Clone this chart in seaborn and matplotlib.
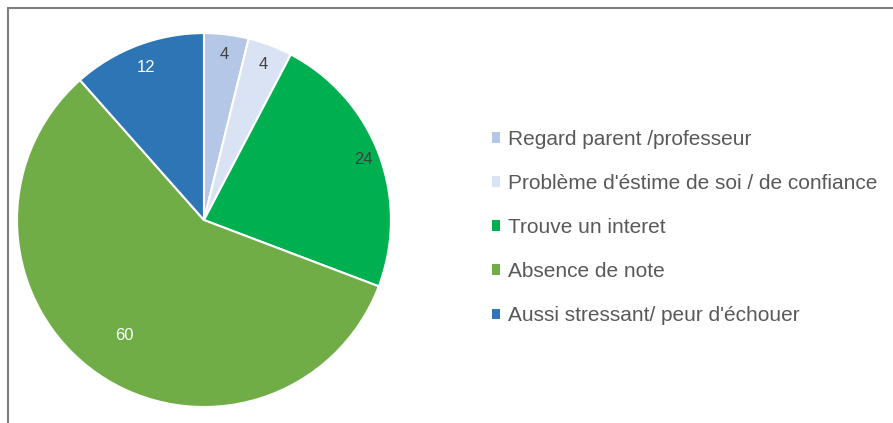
import numpy as np
import matplotlib
matplotlib.use('Agg')
import matplotlib.pyplot as plt
import seaborn as sns
from matplotlib.patches import Patch
from matplotlib.lines import Line2D

# Donnees
categories = ['Regard parent /professeur',
              "Problème d'éstime de soi / de confiance",
              'Trouve un interet',
              'Absence de note',
              "Aussi stressant/ peur d'échouer"]
valeurs = [4, 4, 24, 60, 12]
couleurs = ['#b4c7e7', '#dae3f3', '#00b050', '#70ad47', '#2e75b6']
couleurs_texte = ['#404040', '#404040', '#404040', 'white', 'white']
distances = [0.89, 0.89, 0.91, 0.75, 0.87]

sns.set_theme(style='white')
plt.rcParams['font.family'] = ['Liberation Sans', 'DejaVu Sans']

fig = plt.figure(figsize=(8.93, 4.23), dpi=100)
ax = fig.add_axes([0.019, 0.0378, 0.4188, 0.884])
wedges, _ = ax.pie(valeurs, colors=couleurs, startangle=90, counterclock=False,
                   wedgeprops=dict(edgecolor='white', linewidth=1.5))
ax.set_xlim(-1, 1)
ax.set_ylim(-1, 1)
ax.set_aspect('equal')

# Etiquettes de valeurs
for w, v, c, d in zip(wedges, valeurs, couleurs_texte, distances):
    ang = np.deg2rad((w.theta1 + w.theta2) / 2)
    ax.text(d * np.cos(ang), d * np.sin(ang), str(v), ha='center', va='center',
            fontsize=12, color=c)

# Legende
poignees = [Patch(facecolor=c, edgecolor='none') for c in couleurs]
leg = fig.legend(poignees, categories, loc='upper left', bbox_to_anchor=(0.551, 0.693),
                 frameon=False, fontsize=15, labelcolor='#595959',
                 handlelength=0.4, handleheight=0.4, handletextpad=0.35,
                 labelspacing=1.205, borderaxespad=0, borderpad=0)

# Cadre du graphique
fig.add_artist(Line2D([8 / 893, 8 / 893], [0, 1 - 8 / 423], transform=fig.transFigure,
                      color='#7f7f7f', linewidth=1.5))
fig.add_artist(Line2D([8 / 893, 1], [1 - 8 / 423, 1 - 8 / 423], transform=fig.transFigure,
                      color='#7f7f7f', linewidth=1.5))

plt.savefig('out.png', dpi=100)
